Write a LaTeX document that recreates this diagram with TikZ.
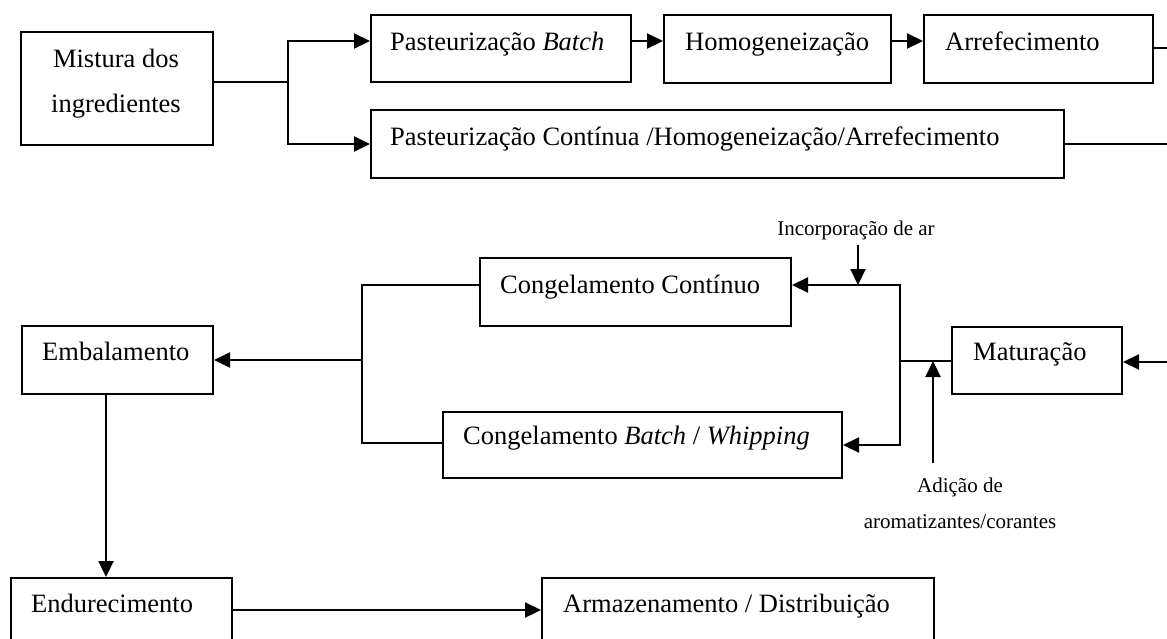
\documentclass[tikz,border=0pt]{standalone}
\usepackage{fontspec}
\setmainfont{Liberation Serif}
\usetikzlibrary{arrows.meta}

\begin{document}
\begin{tikzpicture}[x=1pt,y=-1pt,
  box/.style={draw, line width=2pt, rectangle, inner sep=0pt, anchor=north west},
  lbl/.style={anchor=base west, inner sep=0pt, font=\fontsize{26.5}{30}\selectfont},
  small/.style={anchor=base, inner sep=0pt, font=\fontsize{21}{24}\selectfont},
  wire/.style={line width=2.2pt},
  arr/.style={wire, -{Triangle[length=16pt,width=15pt]}},
]
\clip (0,0) rectangle (1167,638);
\fill[white] (0,0) rectangle (1167,638);

% ---- process boxes ----
\node[box, minimum width=192pt, minimum height=113pt] (mix) at (20,31) {};
\node[box, minimum width=260pt, minimum height=67pt]  (pb)  at (370,14) {};
\node[box, minimum width=227pt, minimum height=68pt]  (hom) at (663,14) {};
\node[box, minimum width=229pt, minimum height=68pt]  (arf) at (923,14) {};
\node[box, minimum width=693pt, minimum height=68pt]  (pc)  at (370,109) {};
\node[box, minimum width=311pt, minimum height=68pt]  (cc)  at (479,257) {};
\node[box, minimum width=399pt, minimum height=66pt]  (cb)  at (442,411) {};
\node[box, minimum width=170pt, minimum height=67pt]  (mat) at (951,326) {};
\node[box, minimum width=191pt, minimum height=68pt]  (emb) at (21,325) {};
\node[box, minimum width=221pt, minimum height=100pt] (end) at (10,577) {};
\node[box, minimum width=392pt, minimum height=100pt] (arm) at (541,577) {};

% ---- box texts ----
\node[lbl, anchor=base] (mixa) at (116,67)  {Mistura dos};
\node[lbl, anchor=base] (mixb) at (116,112) {ingredientes};
\node[lbl] (tpb)  at (390,50)  {Pasteurização \textit{Batch}};
\node[lbl] (thom) at (685,50)  {Homogeneização};
\node[lbl] (tarf) at (945,50)  {Arrefecimento};
\node[lbl] (tpc)  at (390,145) {Pasteurização Contínua /Homogeneização/Arrefecimento};
\node[lbl] (tcc)  at (500,293) {Congelamento Contínuo};
\node[lbl] (tcb)  at (463,444) {Congelamento \textit{Batch} / \textit{Whipping}};
\node[lbl] (tmat) at (973,360) {Maturação};
\node[lbl] (temb) at (42,360)  {Embalamento};
\node[lbl] (tend) at (31,612)  {Endurecimento};
\node[lbl] (tarm) at (563,612) {Armazenamento / Distribuição};

% ---- side inputs ----
\node[small] (inc) at (856,235) {Incorporação de ar};
\node[small] (adA) at (960,492) {Adição de};
\node[small] (adB) at (960,528) {aromatizantes/corantes};

% ---- helper coordinates ----
\coordinate (sp)   at (288,82);
\coordinate (ytop) at (0,41);
\coordinate (ybot) at (0,144);
\coordinate (outA) at (1170,48);
\coordinate (outB) at (1170,144);
\coordinate (ia)   at (858,245);
\coordinate (rj)   at (900,285);
\coordinate (rb)   at (900,445);
\coordinate (rm)   at (900,361);
\coordinate (ad)   at (933,463);
\coordinate (inM)  at (1170,362);
\coordinate (lj)   at (362,360);
\coordinate (lb)   at (0,443);
\coordinate (dx)   at (106,0);
\coordinate (hy)   at (0,610);

% ---- top: mixing and pasteurisation ----
\draw[wire] (mix.east |- sp) -- (sp);
\draw[arr] (sp) |- (pb.west |- ytop);
\draw[arr] (sp) |- (pc.west |- ybot);
\draw[arr] (pb.east |- ytop) -- (hom.west |- ytop);
\draw[arr] (hom.east |- ytop) -- (arf.west |- ytop);
\draw[wire] (arf.east |- outA) -- (outA);
\draw[wire] (pc.east |- outB) -- (outB);

% ---- middle: maturation and freezing ----
\draw[arr] (inM) -- (mat.east |- inM);
\draw[wire] (mat.west |- rm) -- (rm);
\draw[arr] (rm) |- (cc.east |- rj);
\draw[arr] (rm) |- (cb.east |- rb);
\draw[arr] (ia) -- (ia |- rj);
\draw[arr] (ad) -- (ad |- rm);
\draw[wire] (cc.west |- rj) -| (lj) |- (cb.west |- lb);
\draw[arr] (lj) -- (emb.east |- lj);

% ---- bottom: hardening and storage ----
\draw[arr] (emb.south -| dx) -- (end.north -| dx);
\draw[arr] (end.east |- hy) -- (arm.west |- hy);
\end{tikzpicture}
\end{document}
